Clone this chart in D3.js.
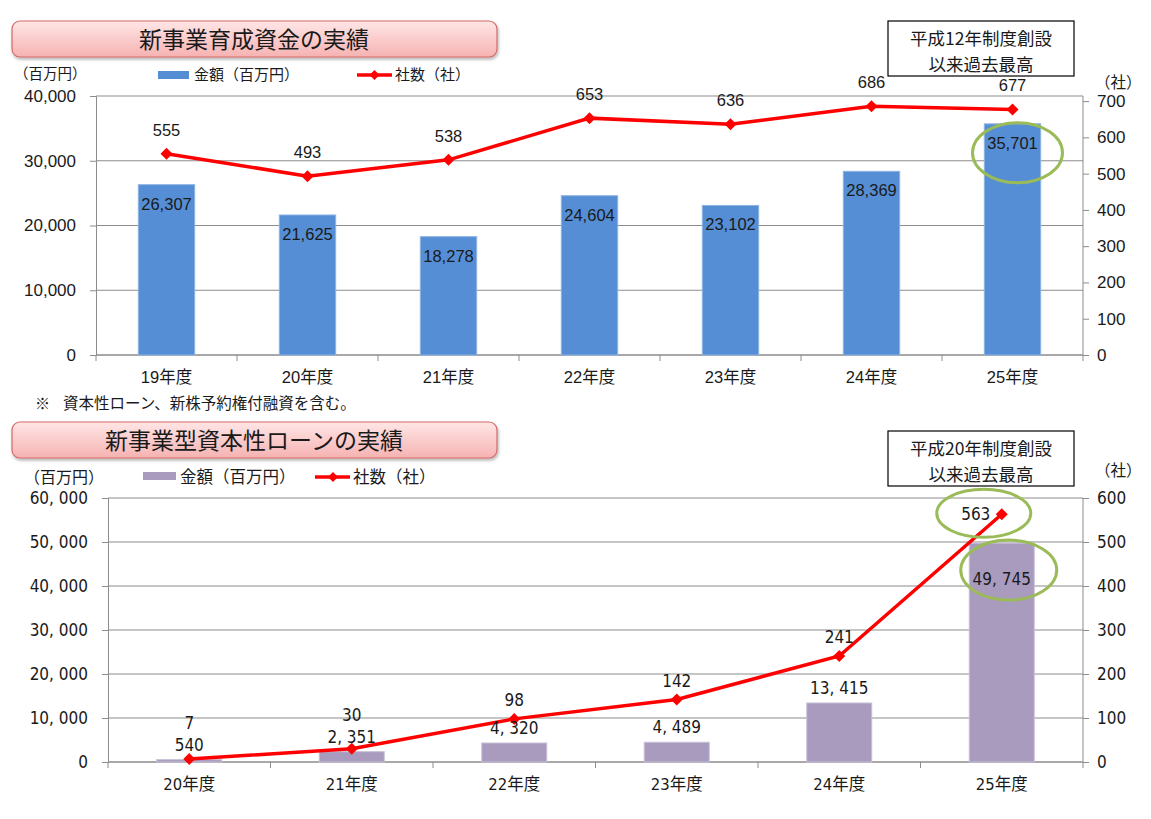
<!DOCTYPE html>
<html>
<head>
<meta charset="utf-8">
<script src="https://cdn.jsdelivr.net/npm/d3@7"></script>
<style>
  body { margin: 0; background: #fff; }
  svg text { font-family: "Liberation Sans", "Noto Sans CJK JP", sans-serif; fill: #1a1a1a; }
  .narrow { font-family: "Liberation Sans Narrow", "DejaVu Sans Condensed", "Liberation Sans", "Noto Sans CJK JP", sans-serif; }
  .jp { font-family: "Noto Sans CJK JP", sans-serif; }
</style>
</head>
<body>
<div id="chart"></div>
<script>
// chart 1: 新事業育成資金
var years1 = ["19年度", "20年度", "21年度", "22年度", "23年度", "24年度", "25年度"];
var amount1 = [26307, 21625, 18278, 24604, 23102, 28369, 35701];
var count1 = [555, 493, 538, 653, 636, 686, 677];
var leftTicks1 = [0, 10000, 20000, 30000, 40000];
var rightTicks1 = [0, 100, 200, 300, 400, 500, 600, 700];

// chart 2: 新事業型資本性ローン
var years2 = ["20年度", "21年度", "22年度", "23年度", "24年度", "25年度"];
var amount2 = [540, 2351, 4320, 4489, 13415, 49745];
var count2 = [7, 30, 98, 142, 241, 563];
var leftTicks2 = [0, 10000, 20000, 30000, 40000, 50000, 60000];
var rightTicks2 = [0, 100, 200, 300, 400, 500, 600];

var gridColor = "#8c8c8c";
var lineRed = "#ff0000";
var ringGreen = "#9bbb59";

var svg = d3.select("#chart").append("svg")
    .attr("width", 1151)
    .attr("height", 819);

var defs = svg.append("defs");
var grad = defs.append("linearGradient")
    .attr("id", "pink")
    .attr("x1", 0).attr("y1", 0).attr("x2", 0).attr("y2", 1);
grad.append("stop").attr("offset", "0%").attr("stop-color", "#ffe6e6");
grad.append("stop").attr("offset", "100%").attr("stop-color", "#f6b2b2");
var shadow = defs.append("filter").attr("id", "shadow")
    .attr("x", "-5%").attr("y", "-20%").attr("width", "110%").attr("height", "160%");
shadow.append("feDropShadow")
    .attr("dx", 1).attr("dy", 2).attr("stdDeviation", 1.5)
    .attr("flood-color", "#000").attr("flood-opacity", 0.3);

function titleBox(y, label) {
  svg.append("rect")
     .attr("x", 12).attr("y", y)
     .attr("width", 485).attr("height", 36)
     .attr("rx", 8)
     .attr("fill", "url(#pink)")
     .attr("stroke", "#d46a6a")
     .attr("stroke-width", 1.2)
     .attr("filter", "url(#shadow)");
  svg.append("text")
     .attr("class", "jp")
     .attr("x", 254).attr("y", y + 27)
     .attr("text-anchor", "middle")
     .attr("font-size", 23)
     .text(label);
}

function noteBox(y, line1, line2) {
  svg.append("rect")
     .attr("x", 888).attr("y", y)
     .attr("width", 186).attr("height", 55)
     .attr("fill", "#fff")
     .attr("stroke", "#000")
     .attr("stroke-width", 1.2);
  svg.append("text").attr("class", "jp")
     .attr("x", 981).attr("y", y + 24)
     .attr("text-anchor", "middle").attr("font-size", 17.5)
     .text(line1);
  svg.append("text").attr("class", "jp")
     .attr("x", 981).attr("y", y + 50)
     .attr("text-anchor", "middle").attr("font-size", 17.5)
     .text(line2);
}

function diamond(g, cx, cy, r) {
  g.append("path")
   .attr("d", "M" + cx + "," + (cy - r) + "L" + (cx + r) + "," + cy +
              "L" + cx + "," + (cy + r) + "L" + (cx - r) + "," + cy + "Z")
   .attr("fill", lineRed);
}

function drawChart(opt) {
  var g = svg.append("g");

  var x = d3.scaleBand()
      .domain(opt.cats)
      .range([opt.left, opt.right])
      .paddingInner(0.6)
      .paddingOuter(0.3);
  var yL = d3.scaleLinear().domain([0, opt.maxL]).range([opt.bottom, opt.top]);
  var yR = d3.scaleLinear().domain([0, opt.maxR]).range([opt.bottom, opt.top]);

  // gridlines
  g.selectAll(".grid").data(opt.leftTicks).enter().append("line")
   .attr("x1", opt.left).attr("x2", opt.right)
   .attr("y1", function(d) { return yL(d); })
   .attr("y2", function(d) { return yL(d); })
   .attr("stroke", gridColor).attr("stroke-width", 1);

  // left axis
  var axL = d3.axisLeft(yL).tickValues(opt.leftTicks)
      .tickSize(6).tickPadding(opt.padL).tickFormat(opt.fmt);
  var gL = g.append("g").attr("transform", "translate(" + opt.left + ",0)").call(axL);
  gL.select(".domain").attr("stroke", gridColor);
  gL.selectAll(".tick line").attr("stroke", gridColor);
  gL.selectAll("text").attr("class", opt.numClass).attr("font-size", opt.numSize).attr("fill", "#1a1a1a");

  // right axis
  var axR = d3.axisRight(yR).tickValues(opt.rightTicks)
      .tickSize(6).tickPadding(8).tickFormat(d3.format("d"));
  var gR = g.append("g").attr("transform", "translate(" + opt.right + ",0)").call(axR);
  gR.select(".domain").attr("stroke", gridColor).attr("d", "M0," + opt.bottom + "V" + opt.top);
  gR.selectAll(".tick line").attr("stroke", gridColor);
  gR.selectAll("text").attr("class", opt.numClass).attr("font-size", opt.numSize).attr("fill", "#1a1a1a");

  // category ticks and labels
  var step = x.step();
  var bounds = d3.range(opt.cats.length + 1).map(function(i) { return opt.left + i * step; });
  g.selectAll(".ctick").data(bounds).enter().append("line")
   .attr("x1", function(d) { return d; }).attr("x2", function(d) { return d; })
   .attr("y1", opt.bottom).attr("y2", opt.bottom + 6)
   .attr("stroke", gridColor);
  g.append("line")
   .attr("x1", opt.left).attr("x2", opt.right)
   .attr("y1", opt.bottom).attr("y2", opt.bottom)
   .attr("stroke", gridColor);
  g.selectAll(".clabel").data(opt.cats).enter().append("text")
   .attr("class", opt.numClass)
   .attr("x", function(d) { return x(d) + x.bandwidth() / 2; })
   .attr("y", opt.bottom + 28)
   .attr("text-anchor", "middle")
   .attr("font-size", 16.5)
   .text(function(d) { return d; });

  // bars
  g.selectAll(".bar").data(opt.amount).enter().append("rect")
   .attr("x", function(d, i) { return x(opt.cats[i]); })
   .attr("y", function(d) { return yL(d); })
   .attr("width", x.bandwidth())
   .attr("height", function(d) { return opt.bottom - yL(d); })
   .attr("fill", opt.barColor)
   .attr("stroke", opt.barEdge).attr("stroke-width", 1);

  // line
  var line = d3.line()
      .x(function(d, i) { return x(opt.cats[i]) + x.bandwidth() / 2; })
      .y(function(d) { return yR(d); });
  g.append("path").datum(opt.count)
   .attr("d", line)
   .attr("fill", "none")
   .attr("stroke", lineRed)
   .attr("stroke-width", 3.5);
  opt.count.forEach(function(d, i) {
    diamond(g, x(opt.cats[i]) + x.bandwidth() / 2, yR(d), 6);
  });

  // labels
  opt.amount.forEach(function(d, i) {
    var cx = x(opt.cats[i]) + x.bandwidth() / 2;
    var p = opt.barLabelPos(d, i, yL(d));
    g.append("text").attr("class", opt.numClass)
     .attr("x", cx).attr("y", p)
     .attr("text-anchor", "middle").attr("font-size", opt.labelSize)
     .text(opt.fmt(d));
  });
  opt.count.forEach(function(d, i) {
    var cx = x(opt.cats[i]) + x.bandwidth() / 2;
    var p = opt.lineLabelPos(d, i, yR(d), yL(opt.amount[i]), cx);
    g.append("text").attr("class", opt.numClass)
     .attr("x", p[0]).attr("y", p[1])
     .attr("text-anchor", "middle").attr("font-size", opt.labelSize)
     .text(d);
  });

  return { x: x, yL: yL, yR: yR };
}

// ---- top chart ----
titleBox(21, "新事業育成資金の実績");
noteBox(21, "平成12年制度創設", "以来過去最高");

svg.append("text").attr("class", "jp").attr("x", 14).attr("y", 79).attr("font-size", 14.5).text("（百万円）");
svg.append("rect").attr("x", 158).attr("y", 71).attr("width", 31).attr("height", 8).attr("fill", "#558ed5");
svg.append("text").attr("class", "jp").attr("x", 194).attr("y", 80).attr("font-size", 15).text("金額（百万円）");
svg.append("line").attr("x1", 357).attr("x2", 392).attr("y1", 75).attr("y2", 75).attr("stroke", lineRed).attr("stroke-width", 3.5);
diamond(svg, 374.5, 75, 5);
svg.append("text").attr("class", "jp").attr("x", 395).attr("y", 80).attr("font-size", 15).text("社数（社）");
svg.append("text").attr("class", "jp").attr("x", 1095).attr("y", 88).attr("font-size", 15.5).text("（社）");

var c1 = drawChart({
  cats: years1, amount: amount1, count: count1,
  left: 96, right: 1083, top: 96, bottom: 355,
  maxL: 40000, maxR: 714,
  leftTicks: leftTicks1, rightTicks: rightTicks1,
  fmt: d3.format(","), padL: 14,
  numClass: "", numSize: 17, labelSize: 16.5,
  barColor: "#558ed5", barEdge: "#8fb4e3",
  barLabelPos: function(d, i, top) { return top + 25; },
  lineLabelPos: function(d, i, py, barTop, cx) { return [cx, py - 18]; }
});

// record highlight
svg.append("ellipse")
   .attr("cx", c1.x(years1[6]) + c1.x.bandwidth() / 2 + 5)
   .attr("cy", c1.yL(amount1[6]) + 29)
   .attr("rx", 45).attr("ry", 30)
   .attr("fill", "none").attr("stroke", ringGreen).attr("stroke-width", 3);

svg.append("text").attr("class", "jp").attr("x", 35).attr("y", 409).attr("font-size", 15).text("※");
svg.append("text").attr("class", "jp").attr("x", 63).attr("y", 409).attr("font-size", 15.5).text("資本性ローン、新株予約権付融資を含む。");

// ---- bottom chart ----
titleBox(422, "新事業型資本性ローンの実績");
noteBox(431, "平成20年制度創設", "以来過去最高");

svg.append("text").attr("class", "jp").attr("x", 24).attr("y", 483).attr("font-size", 16).text("（百万円）");
svg.append("rect").attr("x", 143).attr("y", 472).attr("width", 33).attr("height", 8).attr("fill", "#a89bbe");
svg.append("text").attr("class", "jp").attr("x", 180).attr("y", 483).attr("font-size", 16.5).text("金額（百万円）");
svg.append("line").attr("x1", 315).attr("x2", 350).attr("y1", 477).attr("y2", 477).attr("stroke", lineRed).attr("stroke-width", 3.5);
diamond(svg, 333, 477, 5);
svg.append("text").attr("class", "jp").attr("x", 353).attr("y", 483).attr("font-size", 16.5).text("社数（社）");
svg.append("text").attr("class", "jp").attr("x", 1095).attr("y", 476).attr("font-size", 15.5).text("（社）");

var fmt2 = function(v) { return d3.format(",")(v).replace(/,/g, ", "); };
var last2 = years2.length - 1;

var c2 = drawChart({
  cats: years2, amount: amount2, count: count2,
  left: 108, right: 1083, top: 498, bottom: 762,
  maxL: 60000, maxR: 600,
  leftTicks: leftTicks2, rightTicks: rightTicks2,
  fmt: fmt2, padL: 14,
  numClass: "narrow", numSize: 17, labelSize: 17,
  barColor: "#a89bbe", barEdge: "#c9c0d8",
  barLabelPos: function(d, i, top) { return i === last2 ? top + 42 : top - 9; },
  lineLabelPos: function(d, i, py, barTop, cx) {
    if (i === last2) return [cx - 26, py + 6];
    var barLabelMid = barTop - 15;
    return [cx, Math.min(py - 13, barLabelMid - 16)];
  }
});

svg.append("ellipse")
   .attr("cx", c2.x(years2[last2]) + c2.x.bandwidth() / 2 - 18)
   .attr("cy", c2.yR(count2[last2]) - 1)
   .attr("rx", 47).attr("ry", 24)
   .attr("fill", "none").attr("stroke", ringGreen).attr("stroke-width", 3);
svg.append("ellipse")
   .attr("cx", c2.x(years2[last2]) + c2.x.bandwidth() / 2 + 7)
   .attr("cy", c2.yL(amount2[last2]) + 27)
   .attr("rx", 48).attr("ry", 30)
   .attr("fill", "none").attr("stroke", ringGreen).attr("stroke-width", 3);
</script>
</body>
</html>
